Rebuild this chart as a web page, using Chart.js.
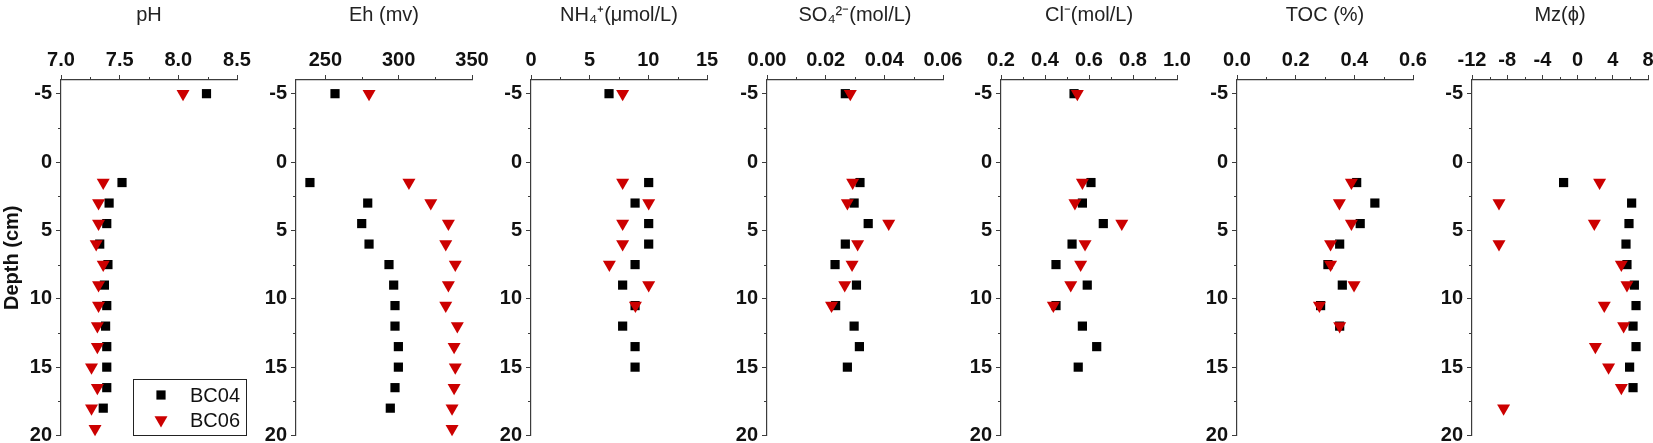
<!DOCTYPE html>
<html>
<head>
<meta charset="utf-8">
<script src="https://cdn.jsdelivr.net/npm/chart.js@4.4.1/dist/chart.umd.min.js"></script>
<style>
  body { margin:0; background:#fff; width:1653px; height:443px; overflow:hidden; position:relative; }
  canvas { position:absolute; top:0; }
</style>
</head>
<body>
<div id="wrap"></div>
<script>
// ---- data ----
const depths = [-5, 1.5, 3, 4.5, 6, 7.5, 9, 10.5, 12, 13.5, 15, 16.5, 18, 19.5];
const depthTicks = [-5, 0, 5, 10, 15, 20];

const ph04 = [8.24, 7.52, 7.41, 7.39, 7.33, 7.40, 7.37, 7.39, 7.38, 7.39, 7.39, 7.39, 7.36, null];
const ph06 = [8.04, 7.36, 7.32, 7.32, 7.30, 7.36, 7.32, 7.32, 7.31, 7.31, 7.26, 7.31, 7.26, 7.29];
const eh04 = [256.6, 239.5, 278.9, 274.8, 279.8, 293.4, 296.6, 297.5, 297.5, 299.8, 299.8, 297.5, 294.3, null];
const eh06 = [279.8, 307, 321.9, 333.9, 332.1, 338.6, 333.9, 332.1, 340, 337.8, 338.6, 337.8, 336.4, 336.4];
const nh404 = [6.65, 10.03, 8.87, 10.03, 10.03, 8.87, 7.81, 8.87, 7.81, 8.87, 8.87, null, null, null];
const nh406 = [7.81, 7.81, 10.03, 7.81, 7.81, 6.68, 10.03, 8.9, null, null, null, null, null, null];
const so404 = [0.0267, 0.0317, 0.0297, 0.0345, 0.0267, 0.0232, 0.0305, 0.0234, 0.0297, 0.0315, 0.0274, null, null, null];
const so406 = [0.0284, 0.0292, 0.0274, 0.0415, 0.0309, 0.0290, 0.0265, 0.0220, null, null, null, null, null, null];
const cl04 = [0.532, 0.609, 0.570, 0.665, 0.523, 0.450, 0.592, 0.450, 0.570, 0.635, 0.551, null, null, null];
const cl06 = [0.547, 0.570, 0.536, 0.749, 0.582, 0.562, 0.517, 0.438, null, null, null, null, null, null];
const toc04 = [null, 0.408, 0.47, 0.42, 0.35, 0.31, 0.359, 0.285, 0.35, null, null, null, null, null];
const toc06 = [null, 0.39, 0.349, 0.39, 0.319, 0.319, 0.399, 0.281, 0.35, null, null, null, null, null];
const mz04 = [null, -1.59, 6.14, 5.84, 5.5, 5.61, 6.45, 6.64, 6.3, 6.64, 5.91, 6.3, null, null];
const mz06 = [null, 2.5, -8.93, 1.9, -8.93, 4.97, 5.61, 3.03, 5.23, 2.02, 3.52, 4.97, -8.41, null];

const seriesNames = ['BC04', 'BC06'];

const panels = [
  { title:'pH',            min:7,   max:8.5,  ticks:[7, 7.5, 8, 8.5],           dec:1, a:ph04,  b:ph06 },
  { title:'Eh (mv)',       min:230, max:350,  ticks:[250, 300, 350],            dec:0, a:eh04,  b:eh06 },
  { title:'NH₄⁺(μmol/L)',  min:0,   max:15,   ticks:[0, 5, 10, 15],             dec:0, a:nh404, b:nh406 },
  { title:'SO₄²⁻(mol/L)',  min:0,   max:0.06, ticks:[0, 0.02, 0.04, 0.06],      dec:2, a:so404, b:so406 },
  { title:'Cl⁻(mol/L)',    min:0.2, max:1.0,  ticks:[0.2, 0.4, 0.6, 0.8, 1.0],  dec:1, a:cl04,  b:cl06 },
  { title:'TOC (%)',       min:0,   max:0.6,  ticks:[0, 0.2, 0.4, 0.6],         dec:1, a:toc04, b:toc06 },
  { title:'Mz(ϕ)',         min:-12, max:8,    ticks:[-12, -8, -4, 0, 4, 8],     dec:0, a:mz04,  b:mz06 },
];

// ---- layout ----
const axisLeft = [61, 296, 531, 767, 1001, 1237, 1472];
const YW = 61, PW = 176, CW = 257, CH = 443;
const FONT = "'Liberation Sans', Arial, sans-serif";
const AXIS = '#3c3c3c';

const mids = arr => arr.slice(1).map((v, i) => (v + arr[i]) / 2);

const minorTicks = {
  id: 'minorTicks',
  afterDraw(chart, args, opts) {
    const ctx = chart.ctx, xs = chart.scales.x, ys = chart.scales.y;
    ctx.save();
    ctx.strokeStyle = AXIS; ctx.lineWidth = 1;
    ctx.beginPath();
    opts.x.forEach(v => {
      const px = Math.round(xs.getPixelForValue(v)) + 0.5;
      ctx.moveTo(px, xs.bottom); ctx.lineTo(px, xs.bottom - 3);
    });
    opts.y.forEach(v => {
      const py = Math.round(ys.getPixelForValue(v)) + 0.5;
      ctx.moveTo(ys.right, py); ctx.lineTo(ys.right - 3, py);
    });
    ctx.stroke();
    ctx.restore();
  }
};

const boxLegend = {
  id: 'boxLegend',
  afterDraw(chart, args, opts) {
    if (!opts.show) return;
    const ctx = chart.ctx;
    ctx.save();
    ctx.strokeStyle = '#222'; ctx.lineWidth = 1;
    ctx.strokeRect(133.5, 379.5, 113, 56);
    chart.data.datasets.forEach((ds, i) => {
      const y = 395 + i * 25;
      ctx.fillStyle = ds.pointBackgroundColor;
      Chart.helpers.drawPoint(ctx, { pointStyle: ds.pointStyle, radius: ds.pointRadius, rotation: ds.rotation, borderWidth: 0 }, 161, y);
      ctx.fillStyle = '#111';
      ctx.font = '20px ' + FONT;
      ctx.textBaseline = 'middle';
      ctx.fillText(ds.label, 190, y + 1);
    });
    ctx.restore();
  }
};

const wrap = document.getElementById('wrap');

panels.forEach((p, i) => {
  const cv = document.createElement('canvas');
  cv.width = CW; cv.height = CH;
  cv.style.left = (axisLeft[i] - YW) + 'px';
  wrap.appendChild(cv);

  const pts = vals => depths.map((d, k) => vals[k] == null ? null : { x: vals[k], y: d }).filter(Boolean);

  new Chart(cv, {
    type: 'scatter',
    data: {
      datasets: [
        { label: seriesNames[0], data: pts(p.a), order: 2,
          pointStyle: 'rect', pointRadius: 6.5, rotation: 0,
          pointBackgroundColor: '#000', pointBorderWidth: 0, pointHoverRadius: 6.5 },
        { label: seriesNames[1], data: pts(p.b), order: 1,
          pointStyle: 'triangle', pointRadius: 7.5, rotation: 180,
          pointBackgroundColor: '#cc0000', pointBorderWidth: 0, pointHoverRadius: 7.5 },
      ]
    },
    options: {
      responsive: false, animation: false, devicePixelRatio: 1,
      clip: false,
      layout: { padding: { left: 0, top: 0, right: CW - YW - PW, bottom: 7 } },
      plugins: {
        legend: { display: false },
        tooltip: { enabled: false },
        minorTicks: { x: mids(p.ticks), y: mids(depthTicks) },
        boxLegend: { show: i === 0 },
      },
      scales: {
        x: {
          type: 'linear', position: 'top', min: p.min, max: p.max,
          afterBuildTicks: s => { s.ticks = p.ticks.map(v => ({ value: v })); },
          afterFit: s => { s.height = 80; s.paddingLeft = 0; s.paddingRight = 0; },
          ticks: { font: { family: FONT, size: 20, weight: 'bold' }, color: '#111', padding: 3,
                   maxRotation: 0, autoSkip: false, callback: v => v.toFixed(p.dec) },
          grid: { drawOnChartArea: false, tickLength: 5, color: AXIS, lineWidth: 1 },
          border: { color: AXIS, width: 1.2 },
          title: { display: true, text: p.title, color: '#222',
                   font: { family: FONT, size: 20 }, padding: { top: 3, bottom: 0 } }
        },
        y: {
          type: 'linear', reverse: true, min: -6, max: 20,
          afterBuildTicks: s => { s.ticks = depthTicks.map(v => ({ value: v })); },
          afterFit: s => { s.width = YW; s.paddingTop = 0; s.paddingBottom = 0; },
          ticks: { font: { family: FONT, size: 20, weight: 'bold' }, color: '#111', padding: 4,
                   autoSkip: false, callback: v => String(v) },
          grid: { drawOnChartArea: false, tickLength: 5, color: AXIS, lineWidth: 1 },
          border: { color: AXIS, width: 1.2 },
          title: { display: i === 0, text: 'Depth (cm)', color: '#111',
                   font: { family: FONT, size: 20, weight: 'bold' }, padding: 0 }
        }
      }
    },
    plugins: [minorTicks, boxLegend]
  });
});
</script>
</body>
</html>
